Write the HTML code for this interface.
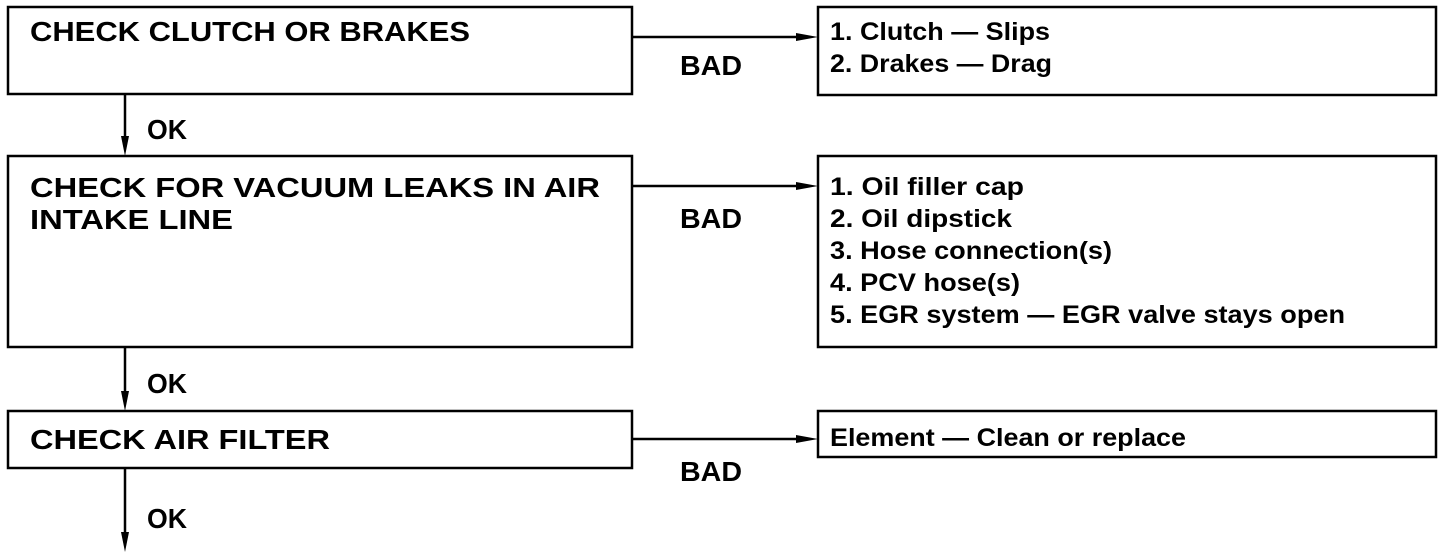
<!DOCTYPE html>
<html><head><meta charset="utf-8"><style>
html,body{margin:0;padding:0;background:#fff;}
svg{display:block}
text{font-family:"Liberation Sans",sans-serif;font-weight:bold;fill:#000;}
</style></head><body>
<svg width="1456" height="556" viewBox="0 0 1456 556" xmlns="http://www.w3.org/2000/svg">
<g fill="none" stroke="#000" stroke-width="2.5">
<rect x="8" y="7" width="624" height="87"/>
<rect x="8" y="156" width="624" height="191"/>
<rect x="8" y="411" width="624" height="57"/>
<rect x="818" y="7" width="618" height="88"/>
<rect x="818" y="156" width="618" height="191"/>
<rect x="818" y="411" width="618" height="46"/>
<line x1="632" y1="37" x2="806" y2="37"/>
<line x1="632" y1="186" x2="806" y2="186"/>
<line x1="632" y1="439" x2="806" y2="439"/>
<line x1="125" y1="94" x2="125" y2="144"/>
<line x1="125" y1="347" x2="125" y2="400"/>
<line x1="125" y1="468" x2="125" y2="540"/>
</g>
<g fill="#000">
<polygon points="818,37 796,33 796,41"/>
<polygon points="818,186 796,182 796,190"/>
<polygon points="818,439 796,435 796,443"/>
<polygon points="125,156 121,136 129,136"/>
<polygon points="125,411 121,391 129,391"/>
<polygon points="125,552 121,532 129,532"/>
</g>
<g font-size="28">
<text x="30" y="41" textLength="440" lengthAdjust="spacingAndGlyphs">CHECK CLUTCH OR BRAKES</text>
<text x="30" y="197" textLength="570" lengthAdjust="spacingAndGlyphs">CHECK FOR VACUUM LEAKS IN AIR</text>
<text x="30" y="229" textLength="203" lengthAdjust="spacingAndGlyphs">INTAKE LINE</text>
<text x="30" y="449" textLength="300" lengthAdjust="spacingAndGlyphs">CHECK AIR FILTER</text>
<text x="680" y="75" textLength="62" lengthAdjust="spacingAndGlyphs">BAD</text>
<text x="680" y="228" textLength="62" lengthAdjust="spacingAndGlyphs">BAD</text>
<text x="680" y="481" textLength="62" lengthAdjust="spacingAndGlyphs">BAD</text>
<text x="147" y="139" textLength="40" lengthAdjust="spacingAndGlyphs">OK</text>
<text x="147" y="393" textLength="40" lengthAdjust="spacingAndGlyphs">OK</text>
<text x="147" y="528" textLength="40" lengthAdjust="spacingAndGlyphs">OK</text>
</g>
<g font-size="25">
<text x="830" y="40" textLength="220" lengthAdjust="spacingAndGlyphs">1. Clutch — Slips</text>
<text x="830" y="72" textLength="222" lengthAdjust="spacingAndGlyphs">2. Drakes — Drag</text>
<text x="830" y="195" textLength="194" lengthAdjust="spacingAndGlyphs">1. Oil filler cap</text>
<text x="830" y="227" textLength="182" lengthAdjust="spacingAndGlyphs">2. Oil dipstick</text>
<text x="830" y="259" textLength="282" lengthAdjust="spacingAndGlyphs">3. Hose connection(s)</text>
<text x="830" y="291" textLength="190" lengthAdjust="spacingAndGlyphs">4. PCV hose(s)</text>
<text x="830" y="323" textLength="515" lengthAdjust="spacingAndGlyphs">5. EGR system — EGR valve stays open</text>
<text x="830" y="446" textLength="356" lengthAdjust="spacingAndGlyphs">Element — Clean or replace</text>
</g>
</svg>
</body></html>
